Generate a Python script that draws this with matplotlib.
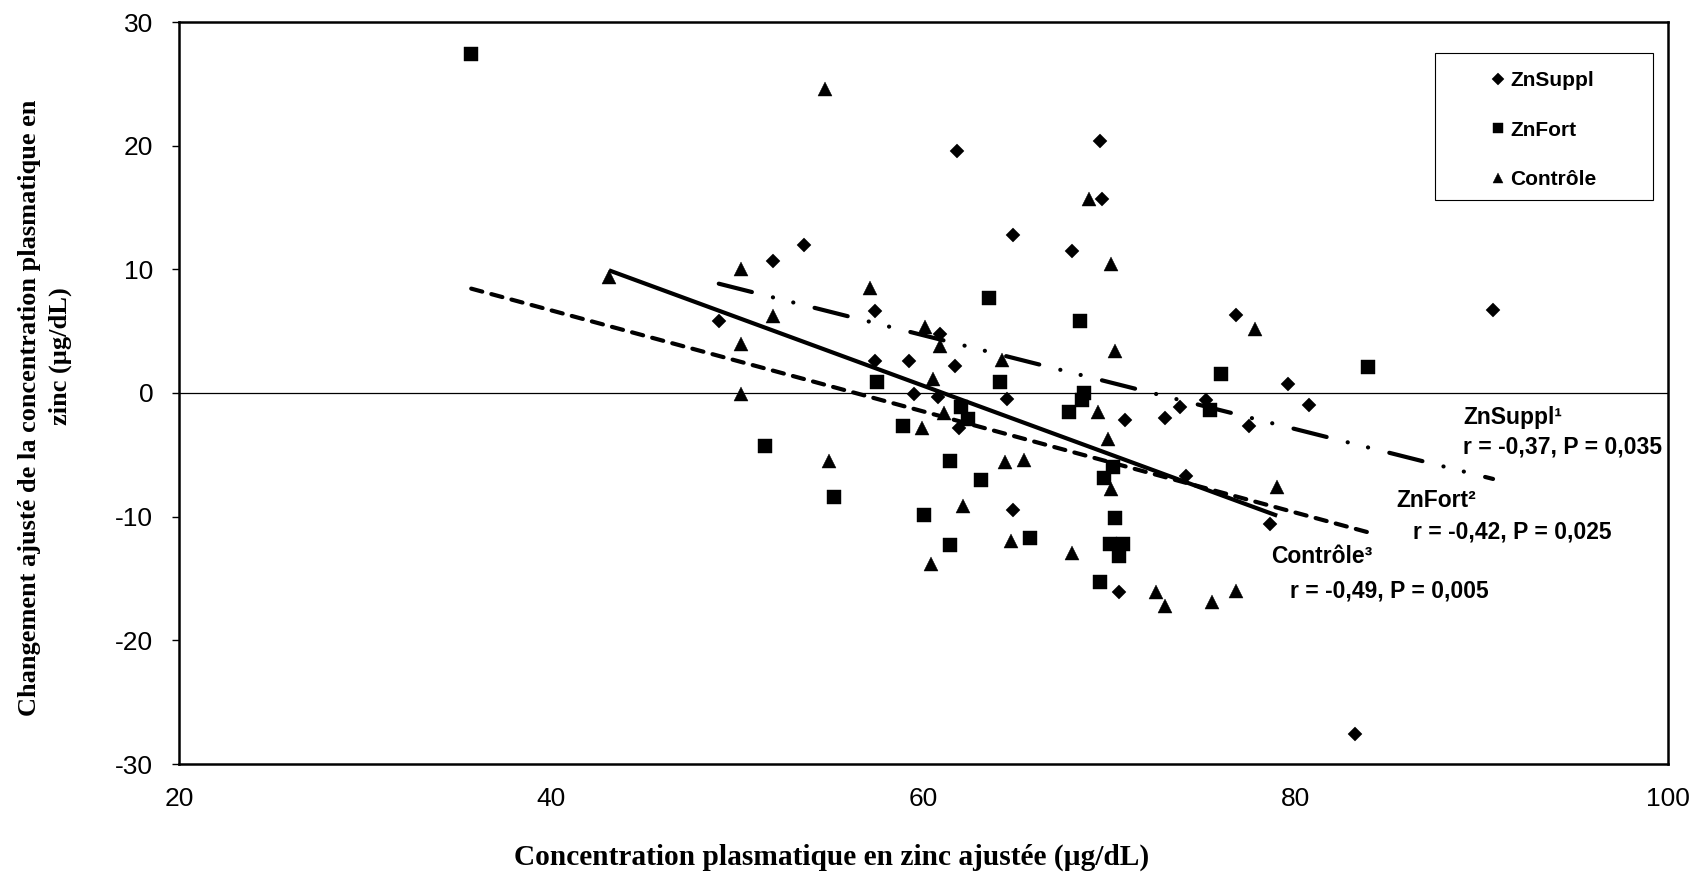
import matplotlib
matplotlib.use("Agg")
import matplotlib.pyplot as plt
from matplotlib.patches import Rectangle
import numpy as np

# ---------------- data ----------------
series_names = ["ZnSuppl", "ZnFort", "Contrôle"]

supp_x = [49.0, 51.9, 53.6, 57.4, 57.4, 59.2, 59.5, 60.8, 60.9, 61.7, 61.8, 61.9, 64.5, 64.8, 64.8,
          68.0, 69.5, 69.6, 70.5, 70.8, 73.0, 73.8, 74.1, 75.2, 76.8, 77.5, 78.6, 79.6, 80.7, 83.2, 90.6]
supp_y = [5.8, 10.7, 12.0, 6.6, 2.6, 2.6, -0.1, -0.3, 4.8, 2.2, 19.6, -2.8, -0.5, 12.8, -9.5,
          11.5, 20.4, 15.7, -16.1, -2.2, -2.0, -1.1, -6.7, -0.6, 6.3, -2.7, -10.6, 0.7, -1.0, -27.6, 6.7]

fort_x = [35.7, 51.5, 55.2, 57.5, 58.9, 60.0, 61.4, 61.4, 62.0, 62.4, 63.1, 63.5, 64.1, 65.7,
          67.8, 68.4, 68.6, 68.5, 69.5, 69.7, 70.2, 70.3, 70.0, 70.7, 70.5, 75.4, 76.0, 83.9]
fort_y = [27.4, -4.3, -8.4, 0.9, -2.7, -9.9, -5.5, -12.3, -1.1, -2.1, -7.0, 7.7, 0.9, -11.7,
          -1.5, 5.8, 0.0, -0.6, -15.3, -6.9, -6.0, -10.1, -12.2, -12.2, -13.2, -1.4, 1.5, 2.1]

ctrl_x = [43.1, 50.2, 50.2, 50.2, 51.9, 54.7, 54.9, 57.1, 59.9, 60.1, 60.5, 60.9, 61.1, 60.4, 62.1,
          64.2, 64.4, 64.7, 65.4, 68.0, 68.9, 69.4, 69.9, 70.1, 70.3, 70.1, 72.5, 73.0, 75.5, 76.8, 77.8, 79.0]
ctrl_y = [9.4, 10.0, 4.0, -0.1, 6.2, 24.6, -5.5, 8.5, -2.8, 5.3, 1.1, 3.8, -1.6, -13.8, -9.1,
          2.7, -5.6, -12.0, -5.4, -12.9, 15.7, -1.5, -3.7, 10.4, 3.4, -7.8, -16.1, -17.2, -16.9, -16.0, 5.2, -7.6]

# trend lines: fitted values at the lowest and highest x of each series
supp_trend_y = [8.84, -6.95]
fort_trend_y = [8.44, -11.27]
ctrl_trend_y = [9.92, -9.92]

annot_titles = ["ZnSuppl\u00b9", "ZnFort\u00b2", "Contr\u00f4le\u00b3"]
annot_stats = ["r = -0,37, P = 0,035", "r = -0,42, P = 0,025", "r = -0,49, P = 0,005"]

x_ticks = [20, 40, 60, 80, 100]
y_ticks = [-30, -20, -10, 0, 10, 20, 30]

xlabel = "Concentration plasmatique en zinc ajustée (µg/dL)"
ylabel_lines = ["Changement ajusté de la concentration plasmatique en", "zinc (µg/dL)"]

# ---------------- figure ----------------
W, H = 1702, 875
fig = plt.figure(figsize=(W / 100, H / 100), dpi=100)
ax = fig.add_axes([179 / W, 1 - 764 / H, (1668 - 179) / W, (764 - 22) / H])

sans = ["Liberation Sans", "DejaVu Sans"]
serif = ["Liberation Serif", "DejaVu Serif"]

ax.axhline(0, color="black", lw=0.9, zorder=1)

# trend lines
ax.plot([min(supp_x), max(supp_x)], supp_trend_y, color="black", lw=3,
        dashes=(8.2, 5.2, 0.03, 5.0, 0.03, 5.25), dash_capstyle="round", zorder=2)
ax.plot([min(fort_x), max(fort_x)], fort_trend_y, color="black", lw=3,
        dashes=(2.75, 2.25), dash_capstyle="round", zorder=2)
ax.plot([min(ctrl_x), max(ctrl_x)], ctrl_trend_y, color="black", lw=3,
        solid_capstyle="butt", zorder=2)

# points
ax.plot(supp_x, supp_y, "D", color="black", ms=7.5, mew=0.3, ls="none", label=series_names[0], zorder=3)
ax.plot(fort_x, fort_y, "s", color="black", ms=10, mew=0.3, ls="none", label=series_names[1], zorder=3)
ax.plot(ctrl_x, ctrl_y, "^", color="black", ms=10, mew=0.3, ls="none", label=series_names[2], zorder=3)

ax.set_xlim(20, 100)
ax.set_ylim(-30, 30)
ax.set_xticks(x_ticks)
ax.set_yticks(y_ticks)
ax.set_xticklabels([str(v) for v in x_ticks], fontfamily=sans, fontsize=19)
ax.set_yticklabels([str(v) for v in y_ticks], fontfamily=sans, fontsize=19)
ax.tick_params(axis="x", length=0, pad=16.5)
ax.tick_params(axis="y", direction="out", length=5, width=1, pad=13.5)
for s in ax.spines.values():
    s.set_linewidth(1.8)
    s.set_color("black")

# annotations
ann_pos = [((89.0, -1.96), (89.0, -4.39)),
           ((85.4, -8.70), (86.3, -11.27)),
           ((78.7, -13.24), (79.7, -16.05))]
for (t_xy, s_xy), title, stat in zip(ann_pos, annot_titles, annot_stats):
    ax.text(t_xy[0], t_xy[1], title, fontfamily=sans, fontsize=16.5, fontweight="bold",
            ha="left", va="center", zorder=4)
    ax.text(s_xy[0], s_xy[1], stat, fontfamily=sans, fontsize=16.5, fontweight="bold",
            ha="left", va="center", zorder=4)

# axis labels
fig.text(832 / W, 1 - 857 / H, xlabel, fontfamily=serif, fontsize=21.2, fontweight="bold",
         ha="center", va="center")
fig.text(30 / W, 1 - 408 / H, ylabel_lines[0], fontfamily=serif, fontsize=19, fontweight="bold",
         ha="center", va="center", rotation=90)
fig.text(60 / W, 1 - 425 / H, ylabel_lines[1], fontfamily=serif, fontsize=19, fontweight="bold",
         ha="center", va="bottom", rotation=90)

# legend box
fig.patches.append(Rectangle((1435 / W, 1 - 200 / H), 218 / W, 147 / H, transform=fig.transFigure,
                             fill=False, ec="black", lw=0.8, zorder=5))
leg = ax.legend(loc="center", bbox_to_anchor=(1544 / W, 1 - 130 / H), bbox_transform=fig.transFigure,
                frameon=False, markerscale=0.75, handlelength=0.6, handletextpad=0.3,
                labelspacing=1.47, prop={"family": sans, "size": 15, "weight": "bold"}, numpoints=1)

fig.savefig("out.png", dpi=100)
